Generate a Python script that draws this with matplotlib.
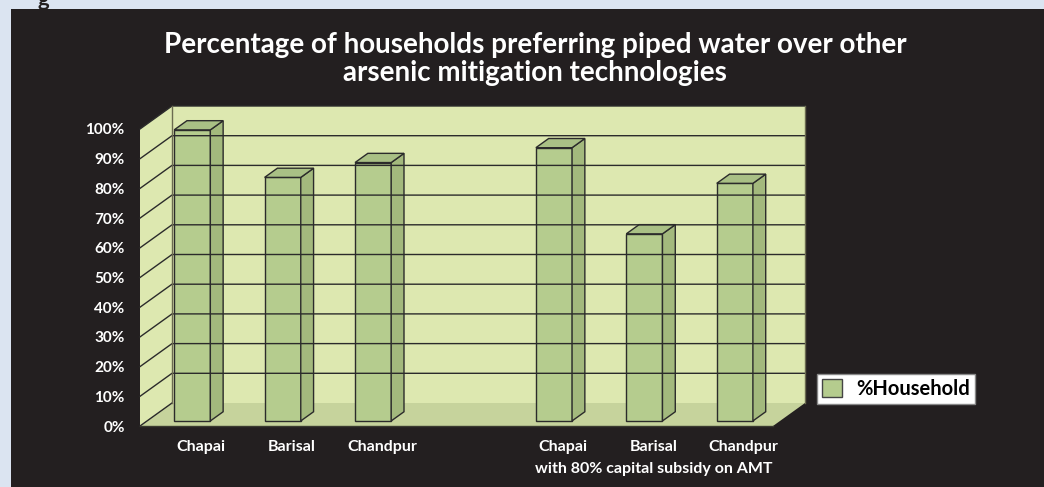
import matplotlib
matplotlib.use("Agg")
import matplotlib.pyplot as plt
from matplotlib.patches import Polygon, Rectangle, Patch
from matplotlib.transforms import ScaledTranslation

# data
categories = ["Chapai", "Barisal", "Chandpur", "", "Chapai", "Barisal", "Chandpur"]
values = [98, 82, 87, None, 92, 63, 80]
y_ticks = [0, 10, 20, 30, 40, 50, 60, 70, 80, 90, 100]
y_tick_labels = [f"{v}%" for v in y_ticks]
group_note = "with 80% capital subsidy on AMT"
series_name = "%Household"
title_lines = ["Percentage of households preferring piped water over other",
               "arsenic mitigation technologies"]

FONT = ["Lato", "DejaVu Sans"]
DARK = "#231f20"
WALL = "#dde8b0"
FLOOR = "#c6d39c"
BAR_FRONT = "#b5cc8e"
BAR_SIDE = "#a3b97d"
BAR_TOP = "#a9c085"
EDGE = "#2b2b2b"

DEPTH_X, DEPTH_Y = 0.32, 0.23  # inches of full depth
BAR_D0, BAR_D1 = 0.22, 0.62
BAR_W = 0.40

fig = plt.figure(figsize=(10.44, 4.87), dpi=100, facecolor="#dbe4f1")
fig.patches.append(Rectangle((11 / 1044, 0), 1 - 11 / 1044, 478 / 487,
                             transform=fig.transFigure, facecolor=DARK,
                             edgecolor="none", zorder=1))
fig.text(38 / 1044, 1.0, "g", fontsize=16, fontweight="bold", family=FONT,
         color=DARK, va="center", zorder=0)

ax = fig.add_axes([140 / 1044, 61 / 487, 633 / 1044, 297 / 487])
ax.set_xlim(-0.5, len(categories) - 0.5)
ax.set_ylim(0, 100)
ax.patch.set_visible(False)
for s in ax.spines.values():
    s.set_visible(False)
ax.set_zorder(2)


def pt(x, y, d):
    """data point (x, y) pushed back by depth d -> data coordinates"""
    px, py = ax.transData.transform((x, y))
    px += d * DEPTH_X * fig.dpi
    py += d * DEPTH_Y * fig.dpi
    return ax.transData.inverted().transform((px, py))


def poly(points, **kw):
    p = Polygon([pt(*q) for q in points], closed=True, clip_on=False, **kw)
    ax.add_patch(p)


x0, x1 = -0.5, len(categories) - 0.5
# walls and floor
poly([(x0, 0, 1), (x1, 0, 1), (x1, 100, 1), (x0, 100, 1)], facecolor=WALL, edgecolor="none")
poly([(x0, 0, 0), (x0, 0, 1), (x0, 100, 1), (x0, 100, 0)], facecolor=WALL, edgecolor="none")
poly([(x0, 0, 0), (x1, 0, 0), (x1, 0, 1), (x0, 0, 1)], facecolor=FLOOR, edgecolor="none")

for v in y_ticks[1:]:
    a, b, c = pt(x0, v, 0), pt(x0, v, 1), pt(x1, v, 1)
    ax.plot([a[0], b[0], c[0]], [a[1], b[1], c[1]], color=EDGE, lw=1, clip_on=False)
a, b = pt(x0, 0, 0), pt(x0, 0, 1)
ax.plot([a[0], b[0]], [a[1], b[1]], color=EDGE, lw=1, clip_on=False)
a, b = pt(x0, 0, 1), pt(x0, 100, 1)
ax.plot([a[0], b[0]], [a[1], b[1]], color="#6b6b50", lw=1, clip_on=False)
a, b = pt(x1, 0, 1), pt(x1, 100, 1)
ax.plot([a[0], b[0]], [a[1], b[1]], color="#6b6b50", lw=1, clip_on=False)
a, b = pt(x0, 0, 0), pt(x1, 0, 0)
ax.plot([a[0], b[0]], [a[1], b[1]], color="#3a3a30", lw=1, clip_on=False)

# bars
for i, v in enumerate(values):
    if v is None:
        continue
    l, r = i - BAR_W / 2, i + BAR_W / 2
    poly([(l, 0, BAR_D0), (r, 0, BAR_D0), (r, v, BAR_D0), (l, v, BAR_D0)],
         facecolor=BAR_FRONT, edgecolor=EDGE, lw=1)
    poly([(r, 0, BAR_D0), (r, 0, BAR_D1), (r, v, BAR_D1), (r, v, BAR_D0)],
         facecolor=BAR_SIDE, edgecolor=EDGE, lw=1)
    poly([(l, v, BAR_D0), (r, v, BAR_D0), (r, v, BAR_D1), (l, v, BAR_D1)],
         facecolor=BAR_TOP, edgecolor=EDGE, lw=1)

# axes labels
ax.set_yticks(y_ticks)
ax.set_yticklabels(y_tick_labels, color="white", fontsize=11, fontweight="bold", family=FONT)
ax.tick_params(axis="y", length=0, pad=11)
ax.set_xticks(range(len(categories)))
ax.set_xticklabels(categories, color="white", fontsize=11.5, fontweight="bold", family=FONT)
ax.tick_params(axis="x", length=0, pad=10)
shift = ScaledTranslation(0.16, 0, fig.dpi_scale_trans)
for lab in ax.get_xticklabels():
    lab.set_transform(lab.get_transform() + shift)
ax.text(5, -14.5, group_note, ha="center", va="center", color="white", fontsize=11.5,
        fontweight="bold", family=FONT, transform=ax.transData + shift, clip_on=False)

for k, line in enumerate(title_lines):
    fig.text(535 / 1044, (487 - 45 - 28 * k) / 487, line, ha="center", va="center",
             color="white", fontsize=20, fontweight="bold", family=FONT, zorder=3)

leg = fig.legend(handles=[Patch(facecolor=BAR_FRONT, edgecolor="#444444", lw=1)],
                 labels=[series_name], loc="center left",
                 bbox_to_anchor=(817 / 1044, 98 / 487), frameon=True, fancybox=False,
                 framealpha=1, facecolor="white",
                 prop={"family": FONT, "weight": "bold", "size": 14.5},
                 handlelength=1.0, handleheight=1.0, borderpad=0.25, borderaxespad=0,
                 handletextpad=0.7)
leg.get_frame().set_edgecolor("#888888")
leg.get_frame().set_linewidth(1)
leg.set_zorder(3)

fig.savefig("out.png", dpi=100, facecolor=fig.get_facecolor())
